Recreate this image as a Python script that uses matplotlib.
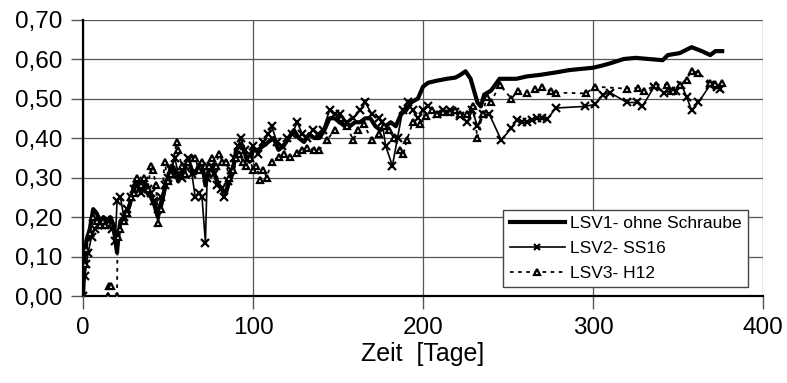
import numpy as np
import matplotlib
matplotlib.use("Agg")
import matplotlib.pyplot as plt
from matplotlib.ticker import FuncFormatter, MultipleLocator

plt.rcParams['font.family'] = ['Liberation Sans', 'DejaVu Sans']

nan = np.nan

# LSV1 - ohne Schraube
tage1 = [0, 1, 2, 4, 6, 8, 10, 12, 14, 16, 18, 19, 20, 21, 22, 24, 26, 28, 30, 32, 34, 36, 38, 40,
         42, 44, 46, 48, 50, 52, 54, 56, 58, 60, 62, 64, 66, 68, 70, 72, 74, 76, 78, 80, 82, 84, 86,
         88, 90, 92, 94, 96, 98, 100, 103, 106, 109, 112, 115, 118, 121, 124, 127, 130, 133, 136,
         139, 142, 145, 148, 151, 154, 157, 160, 163, 166, 169, 172, 175, 178, 181, 184, 187, 190,
         193, 197, 200, 203, 208, 214, 219, 222, 225, 228, 230, 232, 234, 236, 240, 245, 250, 255,
         261, 269, 278, 286, 293, 300, 305, 310, 318, 325, 333, 341, 344, 351, 358, 364, 369, 372, 376]
lsv1 = [0.00, 0.10, 0.14, 0.17, 0.22, 0.21, 0.19, 0.20, 0.19, 0.20, 0.18, 0.14, 0.11, 0.16, 0.19,
        0.20, 0.21, 0.24, 0.28, 0.29, 0.27, 0.28, 0.26, 0.25, 0.23, 0.20, 0.23, 0.27, 0.30, 0.33,
        0.32, 0.29, 0.31, 0.33, 0.34, 0.32, 0.31, 0.33, 0.34, 0.28, 0.32, 0.33, 0.30, 0.28, 0.27,
        0.26, 0.29, 0.31, 0.37, 0.38, 0.38, 0.35, 0.34, 0.37, 0.37, 0.38, 0.39, 0.40, 0.37, 0.38,
        0.40, 0.42, 0.40, 0.39, 0.41, 0.40, 0.40, 0.42, 0.45, 0.45, 0.44, 0.43, 0.43, 0.44, 0.44,
        0.45, 0.45, 0.43, 0.42, 0.43, 0.44, 0.43, 0.46, 0.47, 0.49, 0.50, 0.53, 0.54, 0.545, 0.55,
        0.553, 0.56, 0.569, 0.55, 0.52, 0.49, 0.48, 0.51, 0.52, 0.55, 0.55, 0.55, 0.556, 0.56,
        0.566, 0.572, 0.575, 0.578, 0.583, 0.589, 0.60, 0.603, 0.60, 0.597, 0.61, 0.615, 0.63,
        0.62, 0.61, 0.62, 0.62]

# LSV2 - SS16
tage2 = [0, 1, 2, 3, 5, 7, 9, 11, 13, 15, 17, 19, 20, 22, 24, 26, 28, 30, 32, 34, 36, 38, 40, 42,
         44, 46, 48, 50, 52, 54, 56, 58, 60, 62, 64, 66, 68, 70, 72, 73, 75, 77, 79, 81, 83, 85, 87,
         89, 91, 93, 95, 97, 100, 103, 106, 109, 111, 114, 117, 120, 123, 126, 129, 132, 135, 138,
         141, 145, 148, 151, 155, 159, 163, 166, 170, 174, 176, 178, 182, 185, 188, 191, 194, 197,
         200, 203, 208, 212, 216, 219, 222, 226, 229, 232, 235, 239, 246, 252, 255, 258, 261, 264,
         267, 270, 273, 278, 295, 301, 306, 310, 320, 326, 329, 336, 342, 346, 349, 352, 355, 358,
         362, 369, 373, 375]
lsv2 = [0.00, 0.05, 0.08, 0.11, 0.15, 0.17, 0.18, 0.18, 0.18, 0.19, 0.17, 0.14, 0.24, 0.25, 0.20,
        0.22, 0.25, 0.27, 0.28, 0.26, 0.29, 0.27, 0.26, 0.24, 0.22, 0.25, 0.28, 0.30, 0.32, 0.35,
        0.31, 0.30, 0.33, 0.35, 0.31, 0.25, 0.26, 0.25, 0.135, 0.30, 0.33, 0.31, 0.28, 0.27, 0.25,
        0.29, 0.32, 0.35, 0.38, 0.40, 0.37, 0.35, 0.38, 0.36, 0.39, 0.41, 0.43, 0.39, 0.38, 0.40,
        0.41, 0.44, 0.41, 0.40, 0.42, 0.41, 0.42, 0.47, 0.46, 0.46, 0.44, 0.45, 0.47, 0.49, 0.46,
        0.45, 0.44, 0.38, 0.33, 0.40, 0.47, 0.49, 0.47, 0.45, 0.47, 0.48, 0.46, 0.47, 0.47, 0.465,
        0.455, 0.44, 0.47, 0.43, 0.46, 0.46, 0.395, 0.425, 0.445, 0.44, 0.44, 0.445, 0.45, 0.45,
        0.447, 0.476, 0.48, 0.485, 0.51, 0.515, 0.49, 0.49, 0.48, 0.53, 0.515, 0.52, 0.52, 0.535,
        0.505, 0.47, 0.49, 0.535, 0.53, 0.525]

# LSV3 - H12 (nan = Luecke in der Messreihe)
tage3 = [0, 1, 2, 4, 6, 8, 10, 12, 13, nan, 14.6, 15.4, 16.2, nan, 20, 20.3, 22, 24, 26, 28, 30,
         32, 34, 36, 38, 40, 41, 43, 44, 46, 48, 50, 52, 55, 56, 58, 60, 62, 64, 66, 68, 70, 72, 74,
         76, 78, 80, 82, 84, 86, 88, 90, 92, 94, 96, 98, 100, 102, 104, 106, 108, 111, 115, 118,
         122, 126, 129, 132, 136, 139, 143.5, 148, 152, 155, 159, 162, 165, 170, 174, 177, 180,
         183, 186.5, 188.5, 190.5, 194, 198, 202, 205, 208, 212, 216, 219, 222, 226, 229.5, 232,
         235, 237.6, 240, 245, 252, 256, 261, 266, 270, 275, 278, 296, 301, 320, 326.5, 330, 337,
         343.5, 347, 351, 355, 358, 362, 369, 372, 376]
lsv3 = [0.00, 0.08, 0.12, 0.16, 0.20, 0.19, 0.18, 0.19, 0.18, nan, 0.00, 0.025, 0.025, nan, 0.00,
        0.15, 0.17, 0.19, 0.21, 0.25, 0.26, 0.30, 0.28, 0.30, 0.27, 0.33, 0.32, 0.28, 0.185, 0.22,
        0.34, 0.29, 0.31, 0.39, 0.37, 0.33, 0.31, 0.34, 0.35, 0.35, 0.32, 0.34, 0.33, 0.33, 0.35,
        0.33, 0.36, 0.34, 0.34, 0.30, 0.32, 0.35, 0.36, 0.34, 0.33, 0.35, 0.32, 0.33, 0.295, 0.32,
        0.30, 0.34, 0.352, 0.36, 0.352, 0.362, 0.37, 0.375, 0.37, 0.37, 0.395, 0.42, 0.45, 0.43,
        0.395, 0.42, 0.435, 0.395, 0.41, 0.43, 0.42, 0.40, 0.37, 0.36, 0.395, 0.44, 0.435, 0.455,
        0.47, 0.46, 0.465, 0.467, 0.47, 0.46, 0.46, 0.48, 0.40, 0.46, 0.505, 0.49, 0.535, 0.50,
        0.52, 0.515, 0.525, 0.53, 0.518, 0.515, 0.513, 0.53, 0.525, 0.527, 0.518, 0.535, 0.535,
        0.52, 0.535, 0.548, 0.57, 0.565, 0.54, 0.537, 0.54]

fig = plt.figure(figsize=(7.87, 3.83), dpi=100)
ax = fig.add_axes([0.1055, 0.227, 0.864, 0.722])

ax.plot(tage1, lsv1, color='black', lw=3.0, label='LSV1- ohne Schraube', zorder=3)
ax.plot(tage2, lsv2, color='black', lw=1.2, marker='x', ms=5.5, mew=1.6,
        label='LSV2- SS16', zorder=4)
ax.plot(tage3, lsv3, color='black', lw=1.3, ls=(0, (2, 2.5)), marker='^', ms=5,
        mfc='white', mec='black', mew=1.6, label='LSV3- H12', zorder=5)

ax.set_xlim(0, 400)
ax.set_ylim(0, 0.70)
ax.xaxis.set_major_locator(MultipleLocator(100))
ax.yaxis.set_major_locator(MultipleLocator(0.1))
ax.yaxis.set_major_formatter(FuncFormatter(lambda v, p: f"{v:.2f}".replace('.', ',')))
ax.grid(True, color='#555555', lw=0.9)
ax.set_axisbelow(True)

for s in ['top', 'right']:
    ax.spines[s].set_visible(False)
ax.spines['left'].set_linewidth(1.6)
ax.spines['bottom'].set_linewidth(1.6)
ax.tick_params(axis='both', labelsize=17.5, length=9, width=1, color='#555555', pad=6)
ax.set_xlabel('Zeit  [Tage]', fontsize=18, labelpad=2)

leg = ax.legend(loc='lower right', bbox_to_anchor=(0.978, 0.033), fontsize=12.5,
                frameon=True, fancybox=False, edgecolor='#444444', framealpha=1,
                handlelength=3.2, numpoints=1, borderpad=0.35, labelspacing=0.55,
                handletextpad=0.3, borderaxespad=0)
leg.get_frame().set_linewidth(1.0)
leg.legend_handles[1].set_markersize(4)
leg.legend_handles[2].set_markersize(4)

fig.savefig('out.png', dpi=100)
